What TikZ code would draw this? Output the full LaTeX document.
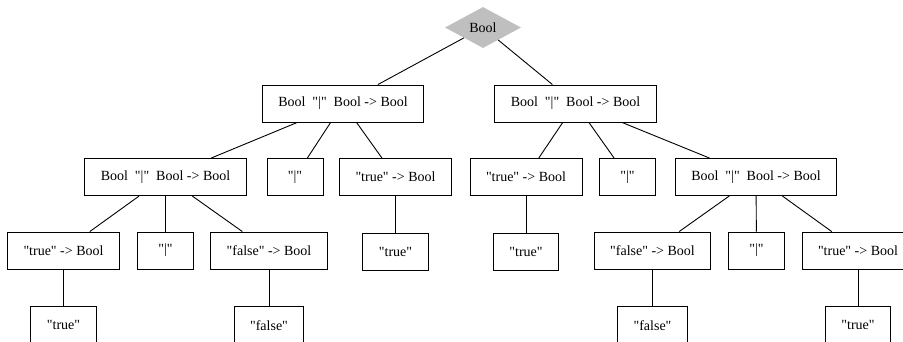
\documentclass[tikz,border=0pt]{standalone}
\usepackage{fontspec}
\setmainfont{Liberation Serif}[Ligatures=TeXOff]
\usetikzlibrary{positioning, shapes.geometric}

\begin{document}
\begin{tikzpicture}[
    x=1pt, y=-1pt,
    % Styles
    box/.style={
        rectangle,
        draw,
        line width=0.9pt,
        minimum height=37pt,
        minimum width=56pt,
        inner xsep=16pt,
        font=\fontsize{14pt}{16pt}\selectfont
    },
    root/.style={ % Start symbol
        diamond,
        fill=gray!50,
        minimum width=76pt,
        minimum height=41pt,
        inner sep=0pt,
        font=\fontsize{14pt}{16pt}\selectfont
    },
    edge/.style={
        line width=0.9pt
    }
]
    \clip (0,0) rectangle (903,341);

    % Root
    \node[root] (top) at (483,27.5) {Bool};

    % First level
    \node[box] (orL) at (343,103.5) {Bool~~"|"~~Bool -> Bool};
    \node[box] (orR) at (575.5,103.5) {Bool~~"|"~~Bool -> Bool};

    % Second level
    \node[box] (orLL) at (165.5,177) {Bool~~"|"~~Bool -> Bool};
    \node[box] (barL) at (295,177) {"|"};
    \node[box] (trueL) at (395.5,177) {"true" -> Bool};
    \node[box] (trueR) at (526,177) {"true" -> Bool};
    \node[box] (barR) at (627.5,177) {"|"};
    \node[box] (orRR) at (756,177) {Bool~~"|"~~Bool -> Bool};

    % Third level
    \node[box] (trueLL) at (63.5,250.5) {"true" -> Bool};
    \node[box] (barLL) at (165.5,250.5) {"|"};
    \node[box] (falseLL) at (269,250.5) {"false" -> Bool};
    \node[box, below=37pt of trueL] (tokL) {"true"};
    \node[box, below=37pt of trueR] (tokR) {"true"};
    \node[box] (falseRR) at (652.5,250.5) {"false" -> Bool};
    \node[box] (barRR) at (756.5,250.5) {"|"};
    \node[box] (trueRR) at (858,250.5) {"true" -> Bool};

    % Leaves
    \node[box, below=37pt of trueLL] (tokLL) {"true"};
    \node[box, below=37pt of falseLL] (tokFL) {"false"};
    \node[box, below=37pt of falseRR] (tokFR) {"false"};
    \node[box, below=37pt of trueRR] (tokRR) {"true"};

    % Connections
    \foreach \i in {orL, orR} {
        \draw[edge] (top) -- (\i);
    }
    \foreach \i in {orLL, barL, trueL} {
        \draw[edge] (orL) -- (\i);
    }
    \foreach \i in {trueR, barR, orRR} {
        \draw[edge] (orR) -- (\i);
    }
    \foreach \i in {trueLL, barLL, falseLL} {
        \draw[edge] (orLL) -- (\i);
    }
    \foreach \i in {falseRR, barRR, trueRR} {
        \draw[edge] (orRR) -- (\i);
    }
    \draw[edge] (trueL) -- (tokL);
    \draw[edge] (trueR) -- (tokR);
    \draw[edge] (trueLL) -- (tokLL);
    \draw[edge] (falseLL) -- (tokFL);
    \draw[edge] (falseRR) -- (tokFR);
    \draw[edge] (trueRR) -- (tokRR);
\end{tikzpicture}
\end{document}
